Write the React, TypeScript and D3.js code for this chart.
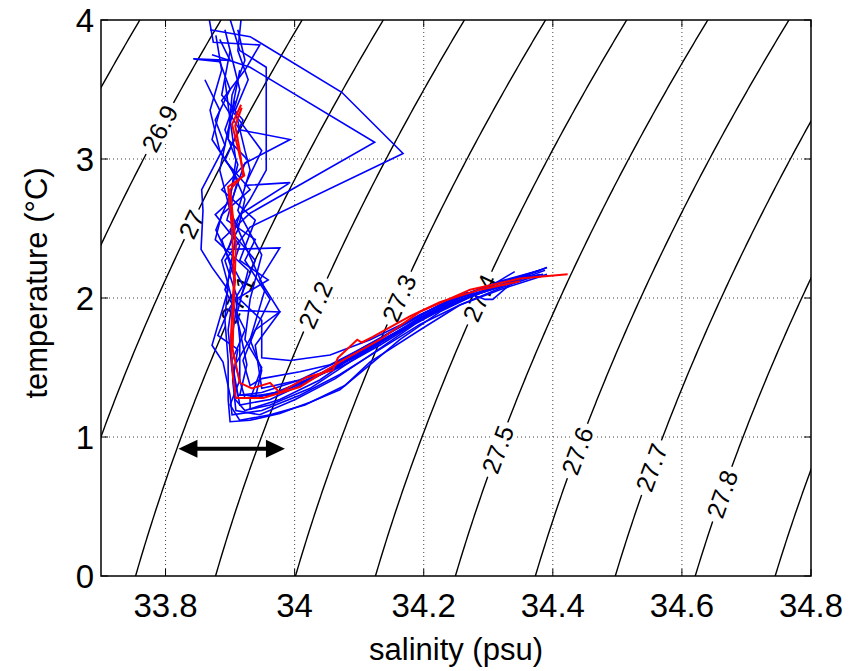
import React from 'react';
import * as d3 from 'd3';

const W = 867, H = 671;
const PL = 101, PR = 811, PT = 20, PB = 576;

const salinityDomain = [33.7, 34.8];
const tempDomain = [0, 4];
const salinityTicks = [33.8, 34, 34.2, 34.4, 34.6, 34.8];
const tempTicks = [0, 1, 2, 3, 4];
const sigmaLevels = [26.8, 26.9, 27.0, 27.1, 27.2, 27.3, 27.4, 27.5, 27.6, 27.7, 27.8, 27.9];
const labelLevels = [26.9, 27.0, 27.1, 27.2, 27.3, 27.4, 27.5, 27.6, 27.7, 27.8];
const labelTemps = [3.22, 2.53, 1.99, 1.95, 2.0, 2.0, 0.91, 0.9, 0.78, 0.59];

const arrowS = [33.82, 33.985];
const arrowT = 0.915;

type P = [number, number];

const profile1: P[] = [[33.869,3.93],[33.931,3.88],[34.073,3.48],[34.168,3.04],[33.931,2.51],[33.892,2.27],[33.912,1.99],[33.900,1.63],[33.908,1.41],[33.915,1.23],[33.962,1.27],[34.008,1.37],[34.070,1.52],[34.132,1.68],[34.194,1.86],[34.256,2.00],[34.318,2.09],[34.391,2.22]];
const profile2: P[] = [[33.872,3.75],[33.931,3.66],[34.124,3.12],[33.931,2.61],[33.887,2.42],[33.908,2.13],[33.897,1.77],[33.903,1.48],[33.912,1.30],[33.949,1.32],[34.008,1.41],[34.070,1.55],[34.132,1.71],[34.194,1.88],[34.256,2.01],[34.318,2.12],[34.380,2.20]];
const profile3: P[] = [[33.866,4.05],[33.874,3.84],[33.946,3.82],[33.923,3.64],[33.887,3.42],[33.915,3.21],[33.993,3.14],[33.923,2.97],[33.903,2.71],[33.877,2.60],[33.915,2.38],[33.892,2.06],[33.923,1.77],[33.903,1.55],[33.908,1.27],[33.923,1.19],[33.977,1.27],[34.039,1.41],[34.101,1.61],[34.163,1.77],[34.225,1.93],[34.287,2.04],[34.341,2.19]];
const profile4: P[] = [[33.884,3.86],[33.900,3.71],[33.843,3.72],[33.884,3.70],[33.900,3.50],[33.877,3.28],[33.892,3.10],[33.856,2.78],[33.858,2.63],[33.855,2.35],[33.872,2.22],[33.897,2.06],[33.872,1.66],[33.889,1.54],[33.900,1.30],[33.903,1.16],[33.949,1.19],[34.008,1.30],[34.070,1.45],[34.132,1.63],[34.194,1.81],[34.256,1.95],[34.318,2.07],[34.380,2.17]];
const profile5: P[] = [[33.918,4.05],[33.912,3.78],[33.928,3.57],[33.908,3.35],[33.923,3.06],[33.931,2.92],[33.912,2.63],[33.949,2.31],[33.931,1.99],[33.923,1.70],[33.949,1.50],[33.931,1.27],[33.931,1.20],[33.962,1.23],[34.024,1.35],[34.086,1.54],[34.148,1.72],[34.210,1.90],[34.267,2.04],[34.295,1.99],[34.307,1.99],[34.337,2.11]];
const profile6: P[] = [[33.912,3.93],[33.923,3.71],[33.903,3.46],[33.897,3.14],[33.928,2.99],[33.887,2.78],[33.939,2.56],[33.915,2.27],[33.959,2.13],[33.909,1.99],[33.915,1.70],[33.915,1.41],[33.900,1.23],[33.915,1.12],[33.962,1.16],[34.016,1.23],[34.078,1.37],[34.117,1.54],[34.194,1.77],[34.256,1.95],[34.318,2.06],[34.391,2.17]];
const profile7: P[] = [[33.892,3.57],[33.900,3.28],[33.909,2.99],[33.900,2.71],[33.908,2.42],[33.897,2.13],[33.892,1.84],[33.897,1.55],[33.897,1.27],[33.900,1.11],[33.931,1.12],[33.977,1.17],[34.024,1.25],[34.070,1.34],[34.117,1.52],[34.163,1.70],[34.225,1.90],[34.287,2.04],[34.349,2.14],[34.385,2.17]];
const profile8: P[] = [[33.878,3.89],[33.887,3.64],[33.869,3.35],[33.884,3.06],[33.912,2.85],[33.895,2.56],[33.939,2.42],[33.923,2.27],[33.962,1.99],[33.939,1.77],[33.920,1.55],[33.931,1.37],[33.949,1.42],[34.008,1.47],[34.055,1.52],[34.101,1.63],[34.163,1.79],[34.225,1.95],[34.287,2.06],[34.349,2.15],[34.391,2.22]];
const profile9: P[] = [[33.897,4.05],[33.915,3.78],[33.956,3.66],[33.956,2.92],[33.931,2.71],[33.900,2.49],[33.939,2.27],[33.915,1.99],[33.949,1.84],[33.949,1.57],[33.993,1.55],[34.055,1.59],[34.117,1.70],[34.179,1.84],[34.241,1.99],[34.303,2.09],[34.380,2.20]];
const profile10: P[] = [[33.900,3.78],[33.887,3.46],[33.920,3.28],[33.892,2.99],[33.931,2.78],[33.887,2.60],[33.877,2.42],[33.928,2.20],[33.912,1.91],[33.977,1.90],[33.939,1.66],[33.949,1.35],[34.008,1.41],[34.070,1.50],[34.132,1.66],[34.194,1.84],[34.256,1.99],[34.318,2.08],[34.388,2.20]];
const profile11: P[] = [[33.861,3.57],[33.884,3.35],[33.872,3.14],[33.903,2.92],[33.923,2.71],[33.912,2.49],[33.887,2.27],[33.903,1.99],[33.915,1.77],[33.926,1.52],[33.915,1.30],[33.962,1.30],[34.024,1.42],[34.086,1.57],[34.148,1.73],[34.210,1.88],[34.272,2.01],[34.341,2.13]];
const profile12: P[] = [[33.908,3.42],[33.892,3.21],[33.912,2.96],[33.900,2.74],[33.878,2.49],[33.903,2.24],[33.920,2.09],[33.897,1.91],[33.881,1.73],[33.912,1.63],[33.904,1.41],[33.909,1.19],[33.946,1.16],[34.001,1.27],[34.063,1.42],[34.124,1.61],[34.186,1.81],[34.248,1.97],[34.310,2.07],[34.365,2.17]];
const profile13: P[] = [[33.915,3.64],[33.903,3.35],[33.949,3.06],[33.923,2.81],[33.993,2.83],[33.915,2.60],[33.897,2.35],[33.977,2.36],[33.946,2.13],[33.977,1.90],[33.939,1.77],[33.908,1.52],[33.923,1.28],[33.970,1.32],[34.039,1.45],[34.101,1.59],[34.163,1.76],[34.225,1.91],[34.287,2.04],[34.349,2.13]];
const profile14: P[] = [[33.892,3.93],[33.915,3.50],[33.897,3.21],[33.884,2.92],[33.900,2.63],[33.923,2.38],[33.954,2.06],[33.931,1.70],[33.949,1.48],[33.939,1.28],[33.993,1.35],[34.055,1.48],[34.117,1.64],[34.179,1.81],[34.241,1.96],[34.303,2.06],[34.365,2.16]];

const blueProfiles = [profile1, profile2, profile3, profile4, profile5, profile6, profile7, profile8, profile9, profile10, profile11, profile12, profile13, profile14];

const meanA: P[] = [[33.917,3.39],[33.903,3.25],[33.912,3.08],[33.922,2.88],[33.897,2.80],[33.903,2.49],[33.906,2.13],[33.901,1.70],[33.904,1.45],[33.909,1.28],[33.951,1.28],[34.008,1.36],[34.070,1.54],[34.132,1.70],[34.194,1.90],[34.272,2.06],[34.349,2.14],[34.423,2.17]];
const meanB: P[] = [[33.918,3.37],[33.908,3.24],[33.915,3.06],[33.920,2.88],[33.900,2.78],[33.909,2.38],[33.906,1.99],[33.904,1.63],[33.915,1.39],[33.934,1.35],[33.962,1.39],[33.977,1.32],[34.019,1.43],[34.059,1.48],[34.067,1.57],[34.097,1.70],[34.104,1.68],[34.121,1.72],[34.179,1.87],[34.225,1.97],[34.287,2.06],[34.349,2.12]];

// UNESCO EOS-80 potential density anomaly at surface pressure
function sigma0(S: number, T: number): number {
  const rw = 999.842594 + 6.793952e-2 * T - 9.09529e-3 * T * T + 1.001685e-4 * T ** 3 - 1.120083e-6 * T ** 4 + 6.536332e-9 * T ** 5;
  const A = 8.24493e-1 - 4.0899e-3 * T + 7.6438e-5 * T * T - 8.2467e-7 * T ** 3 + 5.3875e-9 * T ** 4;
  const B = -5.72466e-3 + 1.0227e-4 * T - 1.6546e-6 * T * T;
  const C = 4.8314e-4;
  return rw + A * S + B * S ** 1.5 + C * S * S - 1000;
}
function solveS(level: number, T: number): number {
  let lo = 32, hi = 37;
  for (let i = 0; i < 50; i++) {
    const mid = (lo + hi) / 2;
    if (sigma0(mid, T) < level) lo = mid; else hi = mid;
  }
  return (lo + hi) / 2;
}

const FONT = '"Liberation Sans", Arial, Helvetica, sans-serif';

export default function App() {
  const x = d3.scaleLinear().domain(salinityDomain).range([PL, PR]);
  const y = d3.scaleLinear().domain(tempDomain).range([PB, PT]);
  const line = d3.line<P>().x(d => x(d[0])).y(d => y(d[1]));

  const tSteps = d3.range(-0.3, 4.31, 0.02);
  const contours = sigmaLevels.map(lv => tSteps.map(t => [solveS(lv, t), t] as P));

  const labels = labelLevels.map((lv, i) => {
    const t = labelTemps[i];
    const s = solveS(lv, t);
    const x1 = x(solveS(lv, t - 0.1)), y1 = y(t - 0.1);
    const x2 = x(solveS(lv, t + 0.1)), y2 = y(t + 0.1);
    const ang = Math.atan2(y2 - y1, x2 - x1) * 180 / Math.PI;
    const txt = String(+lv.toFixed(1));
    return { cx: x(s), cy: y(t), ang, txt };
  });
  const lfs = 25;

  const ax0 = x(arrowS[0]), ax1 = x(arrowS[1]), ay = y(arrowT);
  const hl = 19, hw = 9;

  return (
    <svg width={W} height={H} style={{ position: 'absolute', left: 0, top: 0, background: '#fff' }} fontFamily={FONT}>
      <defs>
        <clipPath id="plot"><rect x={PL} y={PT} width={PR - PL} height={PB - PT} /></clipPath>
      </defs>
      <rect x={0} y={0} width={W} height={H} fill="#fff" />
      {/* grid */}
      <g stroke="#444" strokeWidth={1} strokeDasharray="1,3">
        {salinityTicks.filter(s => s < 34.8).map(s => (
          <line key={'gx' + s} x1={x(s)} x2={x(s)} y1={PT} y2={PB} />
        ))}
        {tempTicks.filter(t => t > 0 && t < 4).map(t => (
          <line key={'gy' + t} x1={PL} x2={PR} y1={y(t)} y2={y(t)} />
        ))}
      </g>
      {/* contours */}
      <g clipPath="url(#plot)">
        {contours.map((c, i) => (
          <path key={'c' + i} d={line(c) || ''} fill="none" stroke="#000" strokeWidth={1.4} />
        ))}
        {labels.map((l, i) => {
          const w = l.txt.length * lfs * 0.5 + 8;
          return (
            <g key={'l' + i} transform={`translate(${l.cx},${l.cy}) rotate(${l.ang})`}>
              <rect x={-w / 2} y={-lfs * 0.45} width={w} height={lfs * 0.9} fill="#fff" />
              <text x={0} y={0} dy="0.36em" textAnchor="middle" fontSize={lfs} fill="#000">{l.txt}</text>
            </g>
          );
        })}
        {/* profiles */}
        {blueProfiles.map((p, i) => (
          <path key={'b' + i} d={line(p) || ''} fill="none" stroke="#0000ff" strokeWidth={1.6} strokeLinejoin="miter" />
        ))}
        <path d={line(meanA) || ''} fill="none" stroke="#ff0000" strokeWidth={2} />
        <path d={line(meanB) || ''} fill="none" stroke="#ff0000" strokeWidth={2} />
        {/* arrow */}
        <line x1={ax0 + hl - 2} x2={ax1 - hl + 2} y1={ay} y2={ay} stroke="#000" strokeWidth={4} />
        <polygon points={`${ax0},${ay} ${ax0 + hl},${ay - hw} ${ax0 + hl},${ay + hw}`} fill="#000" />
        <polygon points={`${ax1},${ay} ${ax1 - hl},${ay - hw} ${ax1 - hl},${ay + hw}`} fill="#000" />
      </g>
      {/* frame and ticks */}
      <rect x={PL} y={PT} width={PR - PL} height={PB - PT} fill="none" stroke="#000" strokeWidth={1.5} />
      <g stroke="#000" strokeWidth={1}>
        {salinityTicks.map(s => (
          <g key={'tx' + s}>
            <line x1={x(s)} x2={x(s)} y1={PB} y2={PB - 7} />
            <line x1={x(s)} x2={x(s)} y1={PT} y2={PT + 7} />
          </g>
        ))}
        {tempTicks.map(t => (
          <g key={'ty' + t}>
            <line x1={PL} x2={PL + 7} y1={y(t)} y2={y(t)} />
            <line x1={PR} x2={PR - 7} y1={y(t)} y2={y(t)} />
          </g>
        ))}
      </g>
      <g fontSize={33} fill="#000">
        {salinityTicks.map(s => (
          <text key={'lx' + s} x={x(s)} y={PB + 41} textAnchor="middle">{String(s)}</text>
        ))}
        {tempTicks.map(t => (
          <text key={'ly' + t} x={PL - 7} y={y(t)} dy="0.36em" textAnchor="end">{String(t)}</text>
        ))}
      </g>
      <text x={(PL + PR) / 2} y={660} textAnchor="middle" fontSize={31} fill="#000">salinity (psu)</text>
      <text transform={`translate(47,283) rotate(-90)`} textAnchor="middle" fontSize={31} fill="#000">temperature (°C)</text>
    </svg>
  );
}
